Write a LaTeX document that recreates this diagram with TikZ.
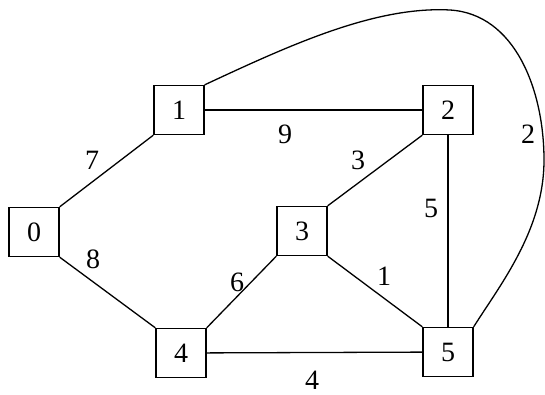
\documentclass[tikz,border=0pt]{standalone}
\usepackage{fontspec}
\setmainfont{Liberation Serif}
\begin{document}
\begin{tikzpicture}[x=1pt,y=-1pt,
  vbox/.style={draw,line width=1.3pt,minimum width=50pt,minimum height=49pt,inner sep=0pt,font=\fontsize{28}{32}\selectfont},
  wlabel/.style={inner sep=0pt,font=\fontsize{28}{32}\selectfont},
  edge/.style={line width=1.3pt}]
\useasboundingbox (0,0) rectangle (545,394);
\node[vbox] (n0) at (34,232) {0};
\node[vbox] (n1) at (179,110) {1};
\node[vbox] (n2) at (448,110) {2};
\node[vbox] (n3) at (302,231) {3};
\node[vbox] (n4) at (181,353) {4};
\node[vbox] (n5) at (448,352) {5};
\draw[edge] (n0.north east) -- (n1.south west);
\draw[edge] (n0.south east) -- (n4.north west);
\draw[edge] (n1) -- (n2);
\draw[edge] (n2.south west) -- (n3.north east);
\draw[edge] (n2) -- (n5);
\draw[edge] (n3.south west) -- (n4.north east);
\draw[edge] (n3.south east) -- (n5.north west);
\draw[edge] (n4) -- (n5);
\draw[edge] (n1.north east) .. controls (290,45) and (375,6) .. (450,10)
  .. controls (515,14) and (544,90) .. (544,160)
  .. controls (544,230) and (500,285) .. (n5.north east);
\node[wlabel] (w7) at (92,160) {7};
\node[wlabel] (w8) at (93,259) {8};
\node[wlabel] (w9) at (285,134) {9};
\node[wlabel] (w3) at (358,160) {3};
\node[wlabel] (w5) at (431,208) {5};
\node[wlabel] (w6) at (237,282) {6};
\node[wlabel] (w1) at (384,276) {1};
\node[wlabel] (w4) at (312,380) {4};
\node[wlabel] (w2) at (528,134) {2};
\end{tikzpicture}
\end{document}
